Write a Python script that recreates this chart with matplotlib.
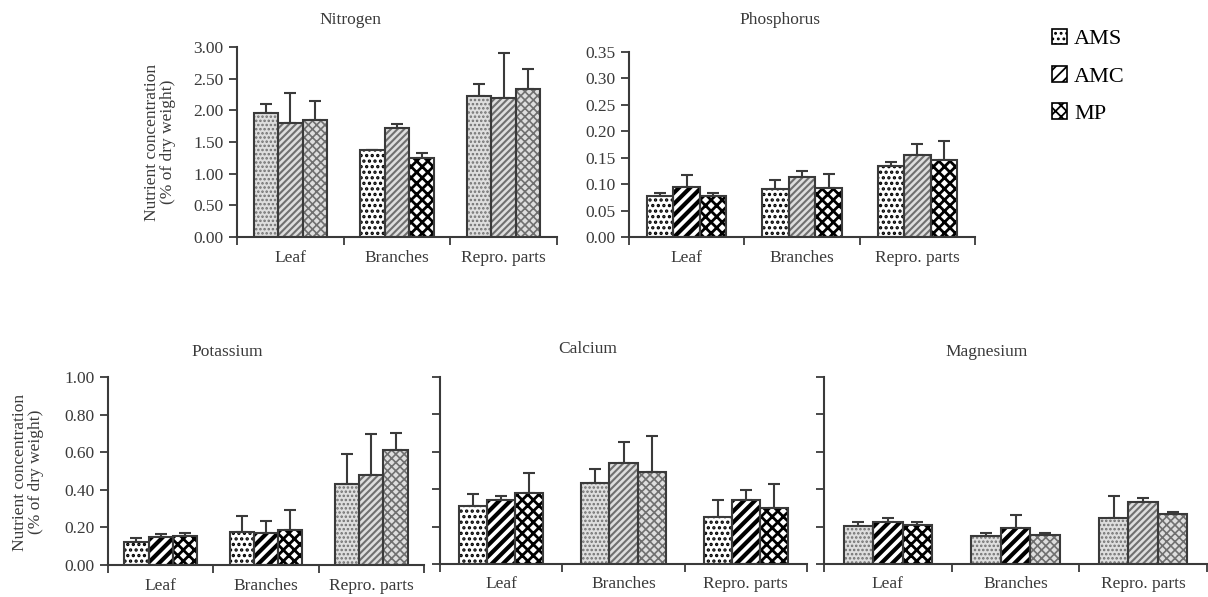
import numpy as np
import matplotlib
matplotlib.use("Agg")
import matplotlib.pyplot as plt
from matplotlib.patches import Patch

plt.rcParams['font.family'] = ['Liberation Serif', 'DejaVu Serif']
plt.rcParams['hatch.linewidth'] = 1.3

parts = ["Leaf", "Branches", "Repro. parts"]
treatments = ["AMS", "AMC", "MP"]

# mean values, rows = treatments (AMS, AMC, MP), cols = parts
nitrogen = [[1.96, 1.375, 2.225], [1.80, 1.72, 2.20], [1.84, 1.24, 2.335]]
nitrogen_err = [[0.14, 0.0, 0.19], [0.47, 0.06, 0.71], [0.30, 0.08, 0.325]]
phosphorus = [[0.077, 0.091, 0.135], [0.095, 0.113, 0.155], [0.077, 0.092, 0.146]]
phosphorus_err = [[0.007, 0.016, 0.007], [0.022, 0.011, 0.021], [0.006, 0.027, 0.035]]
potassium = [[0.124, 0.177, 0.43], [0.147, 0.168, 0.478], [0.156, 0.186, 0.611]]
potassium_err = [[0.018, 0.083, 0.158], [0.018, 0.066, 0.218], [0.016, 0.106, 0.092]]
calcium = [[0.31, 0.433, 0.253], [0.34, 0.538, 0.342], [0.378, 0.494, 0.298]]
calcium_err = [[0.065, 0.077, 0.089], [0.025, 0.116, 0.054], [0.107, 0.19, 0.13]]
magnesium = [[0.204, 0.151, 0.248], [0.225, 0.19, 0.334], [0.208, 0.155, 0.27]]
magnesium_err = [[0.018, 0.017, 0.118], [0.02, 0.071, 0.021], [0.014, 0.01, 0.01]]

# 'l' = light grey pattern, 'd' = dark black/white pattern (as in the figure)
shade_N = ["lll", "dld", "lll"]
shade_P = ["ddd", "dld", "dld"]
shade_K = ["ddd", "ddd", "lll"]
shade_Ca = ["ddd", "lll", "ddd"]
shade_Mg = ["ldd", "ldl", "lll"]

hatches = {"l": ["....", "/////", "xxxx"], "d": ["...", "///", "xxx"]}
hatch_lw = {"l": [1.2, 1.5, 1.2], "d": [1.6, 3.0, 2.0]}
face = {"l": "#dedede", "d": "white"}
hcol = {"l": "#707070", "d": "black"}
grey = "#3a3a3a"
fs = 12.5

W, H = 1208, 597
fig = plt.figure(figsize=(W / 100, H / 100), dpi=100)


def box(x0, x1, ytop, ybot):
    return [x0 / W, 1 - ybot / H, (x1 - x0) / W, (ybot - ytop) / H]


def panel(rect, vals, errs, shades, ymax, yticks, labels_on, title, title_xy):
    ax = fig.add_axes(rect)
    vals = np.array(vals)
    errs = np.array(errs)
    bw = 0.23
    centers = np.arange(len(parts)) + 0.5
    for t in range(len(treatments)):
        xs = centers + (t - 1) * bw
        for i, x in enumerate(xs):
            s = shades[i][t]
            with plt.rc_context({'hatch.linewidth': hatch_lw[s][t]}):
                ax.bar(x, vals[t, i], bw, color=face[s], edgecolor=hcol[s],
                       hatch=hatches[s][t], linewidth=0, zorder=2)
            ax.bar(x, vals[t, i], bw, fill=False, edgecolor=grey,
                   linewidth=1.5, zorder=3)
        ax.errorbar(xs, vals[t], yerr=[np.zeros(len(parts)), errs[t]], fmt='none',
                    ecolor=grey, elinewidth=1.5, capsize=4, capthick=1.5, zorder=1)
    ax.set_xlim(0, 3)
    ax.set_ylim(0, ymax)
    ax.set_xticks([0, 1, 2, 3])
    ax.set_xticklabels([])
    ax.set_xticks(centers, minor=True)
    ax.set_xticklabels(parts, minor=True, fontsize=fs, color=grey)
    ax.tick_params(axis='x', which='minor', length=0, pad=9)
    ax.tick_params(axis='x', which='major', length=6, width=1.3, color=grey, direction='out')
    ax.set_yticks(yticks)
    if labels_on:
        ax.set_yticklabels(["%.2f" % v for v in yticks], fontsize=fs, color=grey)
    else:
        ax.set_yticklabels([])
    ax.tick_params(axis='y', length=6, width=1.3, color=grey, direction='out')
    for sp in ["top", "right"]:
        ax.spines[sp].set_visible(False)
    for sp in ["left", "bottom"]:
        ax.spines[sp].set_color(grey)
        ax.spines[sp].set_linewidth(1.5)
    fig.text(title_xy[0] / W, 1 - title_xy[1] / H, title, ha='center', va='center',
             fontsize=fs, color=grey)
    return ax


panel(box(237, 557, 47, 237), nitrogen, nitrogen_err, shade_N, 3.0,
      np.arange(0, 3.01, 0.5), True, "Nitrogen", (350, 20))
panel(box(629, 975, 52, 237), phosphorus, phosphorus_err, shade_P, 0.35,
      np.arange(0, 0.351, 0.05), True, "Phosphorus", (780, 20))
panel(box(108, 424, 377, 565), potassium, potassium_err, shade_K, 1.0,
      np.arange(0, 1.01, 0.2), True, "Potassium", (227, 352))
panel(box(440, 807, 377, 564), calcium, calcium_err, shade_Ca, 1.0,
      np.arange(0, 1.01, 0.2), False, "Calcium", (588, 349))
panel(box(824, 1207, 377, 564), magnesium, magnesium_err, shade_Mg, 1.0,
      np.arange(0, 1.01, 0.2), False, "Magnesium", (987, 352))

ylab = "Nutrient concentration\n(% of dry weight)"
fig.text(160 / W, 1 - 142 / H, ylab, rotation=90, ha='center', va='center',
         fontsize=fs, color=grey, linespacing=1.05)
fig.text(28 / W, 1 - 472 / H, ylab, rotation=90, ha='center', va='center',
         fontsize=fs, color=grey, linespacing=1.05)

handles = []
for t in range(3):
    with plt.rc_context({'hatch.linewidth': hatch_lw["d"][t]}):
        handles.append(Patch(facecolor="white", edgecolor="black",
                             hatch=hatches["d"][t], linewidth=1.2))
fig.legend(handles, treatments, loc='upper left', bbox_to_anchor=(1043 / W, 1 - 20 / H),
           frameon=False, fontsize=16, handlelength=0.7, handleheight=0.7,
           labelspacing=0.75, handletextpad=0.3, borderaxespad=0)

fig.savefig("out.png", dpi=100)
